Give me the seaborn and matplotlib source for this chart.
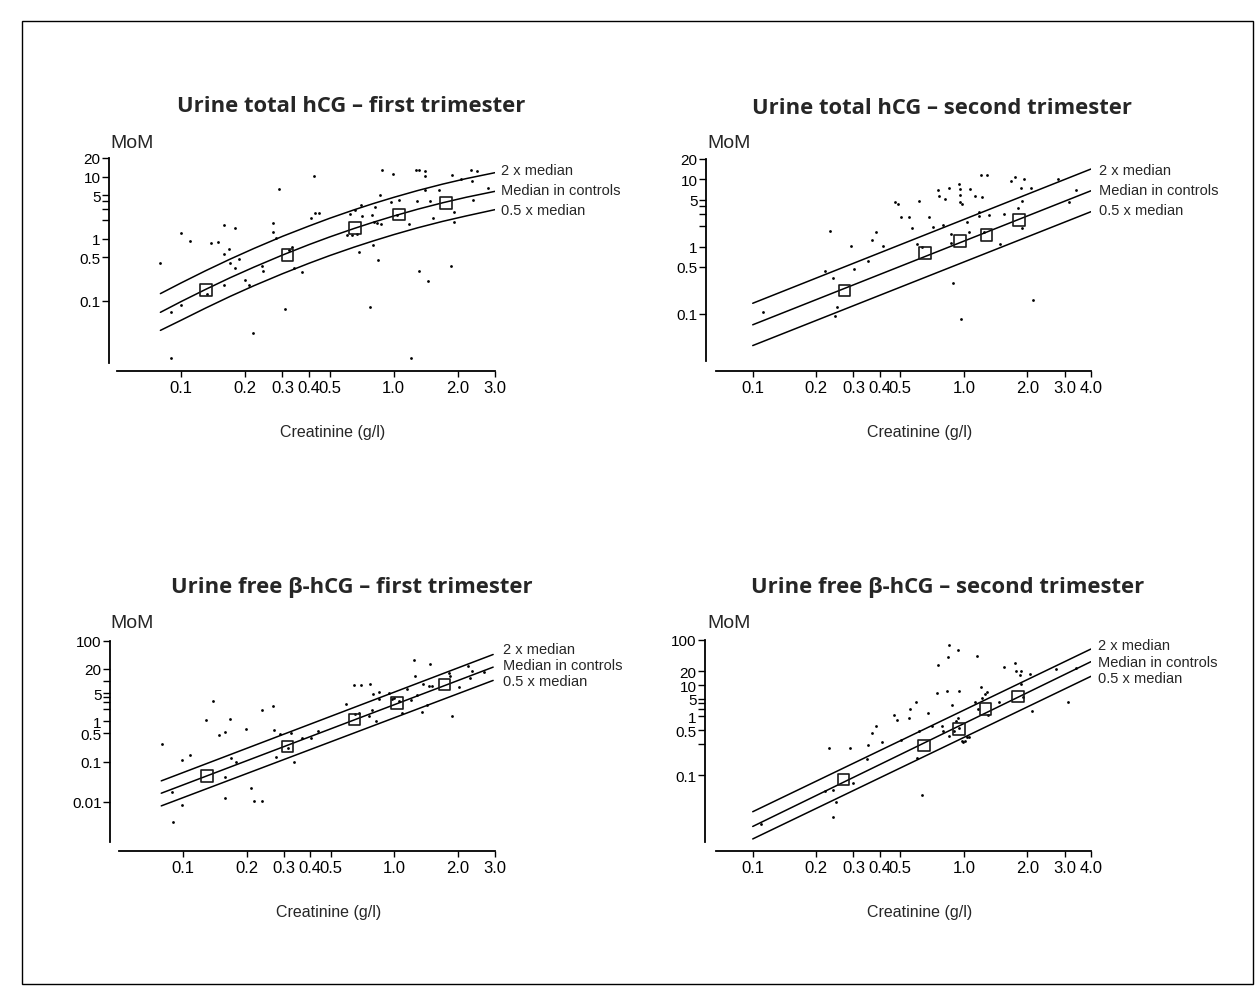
import matplotlib
matplotlib.use("Agg")
import matplotlib.pyplot as plt
import matplotlib.ticker as mticker
from matplotlib.patches import Rectangle
import seaborn as sns

sns.set_style("white")
plt.rcParams['font.family'] = ['Liberation Sans', 'DejaVu Sans']

W, H = 1255, 1003

# ---------------- data ----------------
# Panel 1: urine total hCG, first trimester
p1_x = [0.080, 0.090, 0.100, 0.100, 0.110, 0.132, 0.139, 0.150, 0.160, 0.160,
        0.160, 0.169, 0.170, 0.180, 0.180, 0.188, 0.200, 0.210, 0.219, 0.240,
        0.242, 0.270, 0.270, 0.280, 0.289, 0.309, 0.321, 0.333, 0.341, 0.371,
        0.410, 0.429, 0.444, 0.421, 0.604, 0.627, 0.638, 0.662, 0.674, 0.686,
        0.699, 0.711, 0.773, 0.788, 0.799, 0.808, 0.822, 0.838, 0.844, 0.862,
        0.868, 0.884, 0.968, 0.996, 1.033, 1.063, 1.181, 1.211, 1.270, 1.293,
        1.317, 1.317, 1.400, 1.405, 1.405, 1.457, 1.479, 1.538, 1.636, 1.857,
        1.891, 1.926, 1.926, 2.085, 2.307, 2.350, 2.375, 2.481, 2.766, 0.090]
p1_y = [0.405, 0.065, 1.23, 0.086, 0.91, 0.130, 0.85, 0.88, 1.68, 0.57,
        0.177, 0.68, 0.405, 1.49, 0.336, 0.47, 0.213, 0.181, 0.030, 0.367,
        0.305, 1.79, 1.27, 1.03, 6.3, 0.074, 0.65, 0.73, 0.336, 0.294,
        2.16, 2.59, 2.59, 10.1, 1.16, 2.50, 1.13, 2.94, 1.20, 0.60,
        3.45, 2.29, 0.079, 2.44, 0.80, 1.86, 3.24, 1.79, 0.447, 5.13,
        1.70, 12.97, 3.85, 11.0, 2.44, 4.26, 1.72, 0.0119, 12.97, 4.0,
        12.97, 0.305, 12.2, 10.4, 6.17, 0.205, 4.0, 2.16, 6.17, 0.367,
        10.8, 2.66, 1.83, 9.17, 12.97, 8.41, 4.26, 12.5, 6.56, 0.0119]
p1_box_x = [0.131, 0.317, 0.66, 1.06, 1.76]
p1_box_y = [0.15, 0.54, 1.49, 2.44, 3.77]
p1_line_x = [0.08, 0.10, 0.13, 0.17, 0.22, 0.30, 0.40, 0.50, 0.65, 0.80,
             1.0, 1.3, 1.7, 2.2, 3.0]
p1_upper = [0.130, 0.193, 0.302, 0.467, 0.694, 1.09, 1.60, 2.13, 2.91, 3.67,
            4.63, 5.98, 7.58, 9.32, 11.6]
p1_median = [0.0649, 0.0966, 0.151, 0.234, 0.347, 0.544, 0.802, 1.065, 1.455, 1.834,
             2.317, 2.99, 3.79, 4.66, 5.80]
p1_lower = [0.0332, 0.0483, 0.0755, 0.117, 0.174, 0.272, 0.401, 0.533, 0.728, 0.917,
            1.16, 1.50, 1.90, 2.33, 2.94]

# Panel 2: urine total hCG, second trimester
p2_x = [0.1115, 0.220, 0.233, 0.241, 0.244, 0.250, 0.292, 0.302, 0.351, 0.369,
        0.383, 0.414, 0.472, 0.486, 0.504, 0.552, 0.566, 0.602, 0.613, 0.633,
        0.681, 0.716, 0.754, 0.759, 0.793, 0.813, 0.846, 0.868, 0.868, 0.890,
        0.950, 0.957, 0.957, 0.957, 0.982, 0.964, 1.030, 1.060, 1.067, 1.127,
        1.181, 1.181, 1.203, 1.225, 1.243, 1.289, 1.317, 1.479, 1.545, 1.667,
        1.748, 1.806, 1.859, 1.879, 1.879, 1.928, 2.073, 2.126, 2.791, 3.146,
        3.407]
p2_y = [0.108, 0.430, 1.72, 0.338, 0.092, 0.126, 1.01, 0.465, 0.618, 1.25,
        1.67, 1.01, 4.64, 4.29, 2.78, 2.78, 1.87, 1.09, 4.80, 0.975,
        2.78, 1.93, 6.92, 5.70, 2.09, 5.08, 7.32, 1.54, 1.13, 0.288,
        8.49, 7.15, 5.83, 4.64, 4.29, 0.084, 2.34, 1.67, 7.15, 5.57,
        3.30, 2.88, 11.5, 5.38, 1.63, 11.5, 2.94, 1.09, 3.05, 9.51,
        10.9, 3.70, 7.32, 4.69, 1.87, 10.07, 7.32, 0.163, 10.07, 4.54,
        6.92]
p2_box_x = [0.272, 0.654, 0.957, 1.28, 1.82]
p2_box_y = [0.222, 0.80, 1.22, 1.49, 2.48]
p2_line_x = [0.1, 4.0]
p2_upper = [0.144, 14.2]
p2_median = [0.0690, 6.75]
p2_lower = [0.0339, 3.30]

# Panel 3: urine free beta-hCG, first trimester
p3_x = [0.0797, 0.0891, 0.0898, 0.0993, 0.0993, 0.1086, 0.1286, 0.1383, 0.1485, 0.1585,
        0.1585, 0.1585, 0.1673, 0.1685, 0.1778, 0.198, 0.209, 0.217, 0.237, 0.237,
        0.267, 0.269, 0.276, 0.287, 0.316, 0.325, 0.336, 0.365, 0.404, 0.437,
        0.589, 0.645, 0.650, 0.680, 0.698, 0.758, 0.772, 0.783, 0.791, 0.820,
        0.845, 0.851, 0.947, 0.975, 1.0, 1.055, 1.086, 1.155, 1.197, 1.241,
        1.254, 1.286, 1.358, 1.373, 1.433, 1.459, 1.485, 1.502, 1.811, 1.844,
        1.877, 2.018, 2.247, 2.287, 2.33, 2.671]
p3_y = [0.280, 0.0172, 0.0032, 0.110, 0.0083, 0.144, 1.06, 3.19, 0.459, 0.544,
        0.0427, 0.0129, 1.16, 0.126, 0.0985, 0.634, 0.0220, 0.0103, 0.0103, 1.87,
        2.40, 0.610, 0.134, 0.495, 0.223, 0.524, 0.100, 0.394, 0.394, 0.576,
        2.63, 7.78, 1.49, 1.58, 7.78, 1.355, 8.56, 1.87, 4.66, 1.02,
        3.50, 5.32, 5.12, 3.50, 3.85, 3.19, 1.58, 6.20, 3.31, 33.0,
        13.25, 4.40, 1.70, 8.24, 2.49, 7.49, 25.8, 7.49, 16.0, 13.25,
        1.355, 7.08, 23.4, 12.05, 17.6, 16.96]
p3_box_x = [0.130, 0.313, 0.650, 1.033, 1.728]
p3_box_y = [0.0443, 0.236, 1.12, 2.90, 8.24]
p3_line_x = [0.079, 2.94]
p3_upper = [0.0334, 45.5]
p3_median = [0.0165, 22.1]
p3_lower = [0.0080, 10.35]

# Panel 4: urine free beta-hCG, second trimester
p4_x = [0.110, 0.2286, 0.2205, 0.2396, 0.2396, 0.2484, 0.2893, 0.300, 0.347, 0.351,
        0.369, 0.383, 0.408, 0.469, 0.481, 0.504, 0.550, 0.556, 0.593, 0.602,
        0.613, 0.631, 0.674, 0.709, 0.748, 0.756, 0.784, 0.799, 0.828, 0.843,
        0.852, 0.852, 0.881, 0.900, 0.917, 0.933, 0.940, 0.950, 0.950, 0.975,
        0.993, 1.011, 1.030, 1.056, 1.127, 1.156, 1.169, 1.199, 1.225, 1.257,
        1.289, 1.303, 1.464, 1.545, 1.755, 1.774, 1.839, 1.873, 1.873, 1.907,
        2.050, 2.103, 2.741, 3.111, 3.382]
p4_y = [0.0082, 0.398, 0.0449, 0.0472, 0.0115, 0.0255, 0.398, 0.0653, 0.227, 0.464,
        0.843, 1.248, 0.551, 2.154, 1.668, 0.600, 1.88, 2.93, 4.12, 0.239,
        0.934, 0.0359, 2.35, 1.248, 6.53, 28.3, 1.206, 0.967, 7.23, 42.6,
        77.4, 0.748, 3.66, 0.967, 1.61, 1.85, 61.0, 7.23, 1.11, 0.579,
        0.551, 0.579, 0.711, 0.687, 4.12, 43.4, 2.93, 8.87, 5.14, 6.31,
        7.11, 2.154, 4.26, 24.7, 30.3, 20.8, 16.7, 20.1, 10.5, 5.51,
        17.6, 2.60, 22.7, 4.26, 23.9]
p4_box_x = [0.269, 0.647, 0.947, 1.266, 1.806]
p4_box_y = [0.0788, 0.449, 1.05, 2.93, 5.6]
p4_line_x = [0.1, 4.0]
p4_upper = [0.0153, 63.1]
p4_median = [0.0072, 33.0]
p4_lower = [0.0038, 15.6]

titles = ["Urine total hCG \u2013 first trimester",
          "Urine total hCG \u2013 second trimester",
          "Urine free \u03b2-hCG \u2013 first trimester",
          "Urine free \u03b2-hCG \u2013 second trimester"]
line_labels = ["2 x median", "Median in controls", "0.5 x median"]

x_ticks_short = [0.1, 0.2, 0.3, 0.4, 0.5, 1.0, 2.0, 3.0]
x_labels_short = ["0.1", "0.2", "0.3", "0.4", "0.5", "1.0", "2.0", "3.0"]
x_ticks_long = x_ticks_short + [4.0]
x_labels_long = x_labels_short + ["4.0"]

y_ticks_top = [0.1, 0.5, 1, 2, 3, 4, 5, 10, 20]
y_labels_top = ["0.1", "0.5", "1", "", "", "", "5", "10", "20"]
y_ticks_p3 = [0.01, 0.1, 0.5, 1, 2, 3, 4, 5, 10, 20, 100]
y_labels_p3 = ["0.01", "0.1", "0.5", "1", "", "", "", "5", "", "20", "100"]
y_ticks_p4 = [0.1, 0.5, 1, 2, 3, 4, 5, 10, 20, 100]
y_labels_p4 = ["0.1", "", "0.5", "1", "", "", "5", "10", "20", "100"]

# ---------------- layout (pixels of the 1255x1003 canvas) ----------------
LAYOUT = [
    dict(box=(117, 495, 159, 363.7), xlim=(0.05, 3.0), ylim=(0.01, 20), yoff=8, xoff=8.5,
         title=(351, 107), mom=(110, 143), xlab=(333, 432), tag_x=501, tag_y=(171, 191.5, 211)),
    dict(box=(716, 1091, 160, 362), xlim=(0.067, 4.0), ylim=(0.02, 20), yoff=10, xoff=10,
         title=(942, 109), mom=(707, 143), xlab=(920, 432), tag_x=1099, tag_y=(171, 191.5, 211)),
    dict(box=(119.3, 495, 641.7, 843.3), xlim=(0.05, 3.0), ylim=(0.001, 100), yoff=9.3, xoff=9,
         title=(352, 588), mom=(110, 624), xlab=(329, 913), tag_x=503, tag_y=(650, 666.5, 682.5)),
    dict(box=(716, 1091, 641, 842.7), xlim=(0.067, 4.0), ylim=(0.0033, 100), yoff=11, xoff=9.6,
         title=(948, 588), mom=(707, 624), xlab=(920, 913), tag_x=1098, tag_y=(646, 663, 679)),
]

panels = [
    (p1_x, p1_y, p1_box_x, p1_box_y, p1_line_x, [p1_upper, p1_median, p1_lower],
     x_ticks_short, x_labels_short, y_ticks_top, y_labels_top),
    (p2_x, p2_y, p2_box_x, p2_box_y, p2_line_x, [p2_upper, p2_median, p2_lower],
     x_ticks_long, x_labels_long, y_ticks_top, y_labels_top),
    (p3_x, p3_y, p3_box_x, p3_box_y, p3_line_x, [p3_upper, p3_median, p3_lower],
     x_ticks_short, x_labels_short, y_ticks_p3, y_labels_p3),
    (p4_x, p4_y, p4_box_x, p4_box_y, p4_line_x, [p4_upper, p4_median, p4_lower],
     x_ticks_long, x_labels_long, y_ticks_p4, y_labels_p4),
]

TITLE_FONT = ['Open Sans', 'DejaVu Sans']
NARROW_FONT = ['Liberation Sans Narrow', 'Liberation Sans', 'DejaVu Sans']
PX2PT = 72 / 100

fig = plt.figure(figsize=(W / 100, H / 100), dpi=100)
fig.patches.append(Rectangle((22 / W, 1 - 985 / H), (1253 - 22) / W, (985 - 22) / H,
                             transform=fig.transFigure, fill=False, ec='black', lw=1.0))

for lay, title, (dx, dy, bx, by, lx, lines, xt, xtl, yt, ytl) in zip(LAYOUT, titles, panels):
    left, right, top, bottom = lay['box']
    ax = fig.add_axes([left / W, 1 - bottom / H, (right - left) / W, (bottom - top) / H])
    ax.set_xscale('log')
    ax.set_yscale('log')

    for ys in lines:
        sns.lineplot(x=lx, y=ys, ax=ax, color='black', lw=1.1, estimator=None)
    sns.scatterplot(x=dx, y=dy, ax=ax, color='black', s=4, linewidth=0, marker='o')
    sns.scatterplot(x=bx, y=by, ax=ax, marker='s', s=70, facecolors='none',
                    edgecolor='#1a1a1a', linewidth=1.2, zorder=5)

    ax.set_xlim(*lay['xlim'])
    ax.set_ylim(*lay['ylim'])
    ax.set_xticks(xt, labels=xtl)
    ax.set_yticks(yt, labels=ytl)
    ax.xaxis.set_minor_locator(mticker.NullLocator())
    ax.yaxis.set_minor_locator(mticker.NullLocator())
    ax.tick_params(axis='both', which='major', direction='out', width=1,
                   color='black', labelcolor='black', left=True, bottom=True)
    ax.tick_params(axis='y', length=5, pad=1, labelsize=11)
    ax.tick_params(axis='x', length=4.3, pad=2, labelsize=12)

    for side in ['top', 'right']:
        ax.spines[side].set_visible(False)
    ax.spines['left'].set_position(('outward', lay['yoff'] * PX2PT))
    ax.spines['bottom'].set_position(('outward', lay['xoff'] * PX2PT))
    for side in ['left', 'bottom']:
        ax.spines[side].set_color('black')
        ax.spines[side].set_linewidth(1.3)
    ax.set_xlabel('')
    ax.set_ylabel('')
    ax.patch.set_alpha(0)

    # texts around the panel
    tx, ty = lay['title']
    fig.text(tx / W, 1 - ty / H, title, ha='center', va='center', fontsize=15.8,
             fontweight='bold', family=TITLE_FONT)
    mx, my = lay['mom']
    fig.text(mx / W, 1 - my / H, 'MoM', ha='left', va='center', fontsize=14)
    cx, cy = lay['xlab']
    fig.text(cx / W, 1 - cy / H, 'Creatinine (g/l)', ha='center', va='center', fontsize=11.5)
    for lab, ly in zip(line_labels, lay['tag_y']):
        fig.text(lay['tag_x'] / W, 1 - ly / H, lab, ha='left', va='center',
                 fontsize=10.5, family=NARROW_FONT)

fig.savefig('out.png', dpi=100)
